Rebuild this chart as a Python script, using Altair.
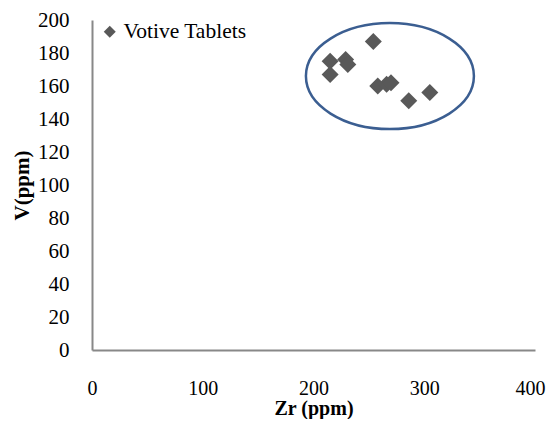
import altair as alt
import pandas as pd

zr = [215, 229, 231, 215, 254, 258, 266, 270, 286, 305]
v = [175, 176, 173, 167, 187, 160, 161, 162, 151, 156]
series = ["Votive Tablets"] * len(zr)

ellipse_x = [269]
ellipse_y = [166]

df = pd.DataFrame({"Zr": zr, "V": v, "series": series})
edf = pd.DataFrame({"Zr": ellipse_x, "V": ellipse_y})

FONT = "Liberation Serif"

xscale = alt.Scale(domain=[0, 400], nice=False)
yscale = alt.Scale(domain=[0, 200], nice=False)

xaxis = alt.Axis(values=[0, 100, 200, 300, 400], ticks=False, grid=False,
                 labelOverlap=False, labelFlush=False,
                 labelAlign={"condition": {"test": "datum.value == 400", "value": "right"}, "value": "center"},
                 labelOffset={"condition": {"test": "datum.value == 400", "value": 10}, "value": 0},
                 domainColor="#888888", domainWidth=2, labelFont=FONT, labelFontSize=20,
                 labelColor="#000000", labelPadding=28, title="Zr (ppm)",
                 titleFont=FONT, titleFontSize=20, titleFontWeight="bold",
                 titleColor="#000000", titlePadding=0)
yaxis = alt.Axis(values=list(range(0, 201, 20)), ticks=False, grid=False,
                 labelOverlap=False, labelFlush=False,
                 domainColor="#888888", domainWidth=2, labelFont=FONT, labelFontSize=21,
                 labelColor="#000000", labelPadding=23, title="V(ppm)",
                 titleFont=FONT, titleFontSize=21, titleFontWeight="bold",
                 titleColor="#000000", titlePadding=5)

points = alt.Chart(df).mark_point(shape="diamond", filled=True, opacity=1, size=289).encode(
    x=alt.X("Zr:Q", scale=xscale, axis=xaxis),
    y=alt.Y("V:Q", scale=yscale, axis=yaxis),
    color=alt.Color("series:N", scale=alt.Scale(range=["#595959"]),
                    legend=alt.Legend(title=None, orient="none", legendX=7, legendY=1,
                                      symbolType="diamond", symbolSize=144, symbolOpacity=1,
                                      labelFont=FONT, labelFontSize=21.5, labelColor="#000000",
                                      labelOffset=3)),
)

ell = alt.Chart(edf).mark_point(
    shape="M -1 0 A 1 0.631 0 1 1 1 0 A 1 0.631 0 1 1 -1 0 Z",
    filled=False, stroke="#3b5e91", strokeWidth=2.5, size=168 * 168, opacity=1,
).encode(
    x=alt.X("Zr:Q", scale=xscale, axis=xaxis),
    y=alt.Y("V:Q", scale=yscale, axis=yaxis),
)

chart = alt.layer(points, ell).properties(
    width=443, height=330,
    autosize=alt.AutoSizeParams(type="none"),
    padding={"left": 84, "top": 12, "right": 11, "bottom": 69},
).configure_view(stroke=None)

chart.save("out.html", embed_options={"renderer": "svg", "actions": False})
